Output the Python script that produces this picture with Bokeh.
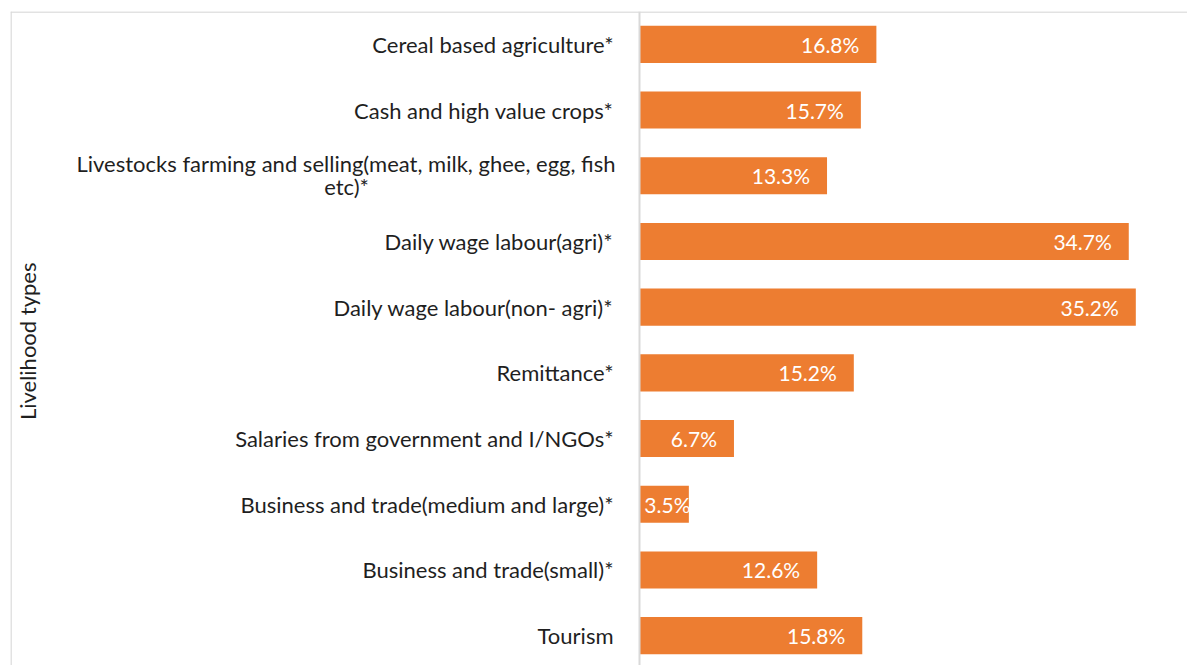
import math
from bokeh.plotting import figure
from bokeh.models import Range1d, Span, ColumnDataSource
from bokeh.core.properties import value
from bokeh.embed import file_html
from bokeh.resources import INLINE

categories = [
    "Cereal based agriculture*",
    "Cash and high value crops*",
    "Livestocks farming and selling(meat, milk, ghee, egg, fish\netc)*",
    "Daily wage labour(agri)*",
    "Daily wage labour(non- agri)*",
    "Remittance*",
    "Salaries from government and I/NGOs*",
    "Business and trade(medium and large)*",
    "Business and trade(small)*",
    "Tourism",
]
values = [16.8, 15.7, 13.3, 34.7, 35.2, 15.2, 6.7, 3.5, 12.6, 15.8]
axis_title = "Livelihood types"

FONT = "Lato"
ORANGE = "#ED7D31"
GRID = "#D9D9D9"
TXT = "#1F1F1F"

W, H = 1187, 665
ML, MT = 10, 11
FW, FH = W - ML, H - MT
PX = 14.1          # pixels per percent
AX = 629           # axis position from frame left (px)
CAT = 65.7         # pixels per category

n = len(categories)
ys = [n - 1 - i for i in range(n)]

p = figure(width=W, height=H, output_backend="svg", toolbar_location=None,
           x_axis_location=None, y_axis_location=None,
           x_range=Range1d(-AX / PX, (FW - AX) / PX),
           y_range=Range1d(n - 0.5 - FH / CAT, n - 0.5),
           min_border_left=ML, min_border_top=MT, min_border_right=0, min_border_bottom=0)
p.outline_line_color = None
p.grid.visible = False
p.background_fill_color = "white"
p.border_fill_color = "white"

# chart area border (top and left)
p.add_layout(Span(location=n - 0.5 - 0.5 / CAT, dimension="width", line_color=GRID, line_width=1.5))
p.add_layout(Span(location=-AX / PX + 0.5 / PX, dimension="height", line_color=GRID, line_width=1.5))

src = ColumnDataSource(dict(
    y=ys, v=values,
    lab=[f"{v:.1f}%" for v in values],
    lx=[max(v, 4.82) for v in values],
))

p.hbar(y="y", left=0, right="v", height=0.565, source=src, fill_color=ORANGE,
       line_color=None)

# vertical axis line
p.add_layout(Span(location=0, dimension="height", line_color=GRID, line_width=2))

# value labels
p.text(x="lx", y="y", text="lab", source=src, x_offset=-17, text_align="right",
       text_baseline="middle", text_color="white", text_font=value(FONT),
       text_font_size="21px")

# category labels
single = [(c, y) for c, y in zip(categories, ys) if "\n" not in c]
p.text(x=[0] * len(single), y=[y for _, y in single], text=[c for c, _ in single],
       x_offset=-26, text_align="right", text_baseline="middle", text_color=TXT,
       text_font=value(FONT), text_font_size="22px")
for c, y in zip(categories, ys):
    if "\n" in c:
        l1, l2 = c.split("\n")
        p.text(x=[0], y=[y], text=[l1], x_offset=-24, y_offset=-12, text_align="right",
               text_baseline="middle", text_color=TXT, text_font=value(FONT),
               text_font_size="22px")
        p.text(x=[0], y=[y], text=[l2], x_offset=-293, y_offset=11, text_align="center",
               text_baseline="middle", text_color=TXT, text_font=value(FONT),
               text_font_size="22px")

# axis title
p.text(x=[-(AX - 17) / PX], y=[(n - 1) / 2 - 0.02], text=[axis_title], angle=math.pi / 2,
       text_align="center", text_baseline="middle", text_color=TXT,
       text_font=value(FONT), text_font_size="22px")

open("out.html", "w").write(file_html(p, INLINE))
